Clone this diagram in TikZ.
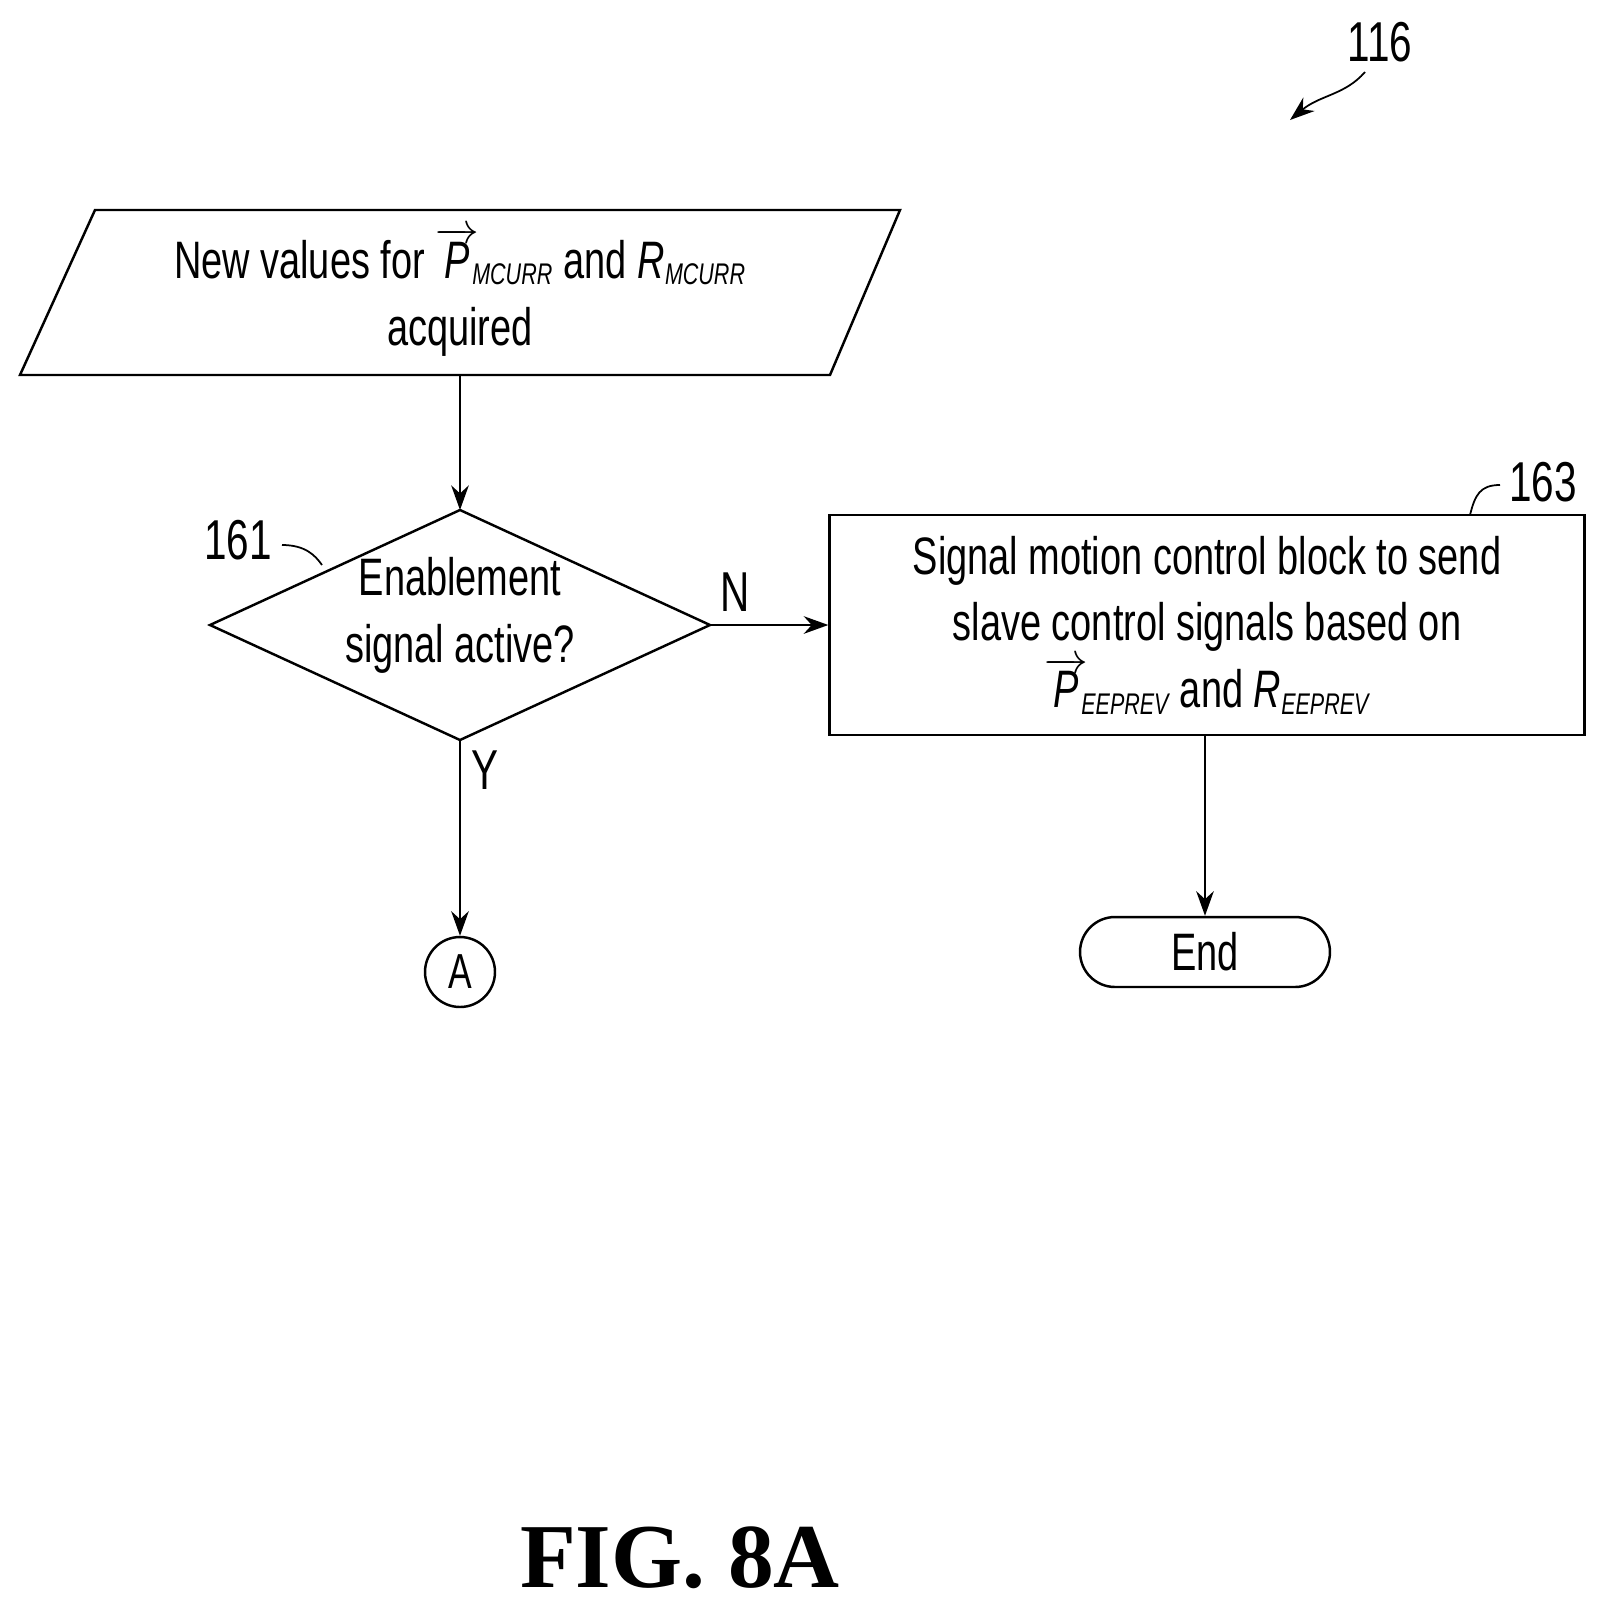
\documentclass[tikz,border=0pt]{standalone}
\usepackage{fontspec}
\setmainfont[FakeStretch=0.72]{Liberation Sans}
\newfontfamily\figfont{Liberation Serif}
\usetikzlibrary{shapes.geometric,arrows.meta}
\newcommand{\sbs}[1]{\mbox{\fontsize{17}{17}\selectfont\itshape #1}}
\newcommand{\vP}{\ensuremath{\overrightarrow{\mbox{\itshape P}}\kern-4pt}}
\begin{document}
\begin{tikzpicture}[x=0.02cm,y=-0.02cm,
  line width=1.4pt,
  txt/.style={font=\fontsize{30}{38}\selectfont,align=center},
  arr/.style={-{Stealth[length=14pt,width=10pt]}},
  lbl/.style={font=\fontsize{32}{36}\selectfont}]
\useasboundingbox (0,0) rectangle (1608,1617);
% parallelogram
\draw (95,210) -- (900,210) -- (830,375) -- (20,375) -- cycle;
\node[txt] (in) at (460,292) {New values for \vP$_{\sbs{MCURR}}$ and {\itshape R}$_{\sbs{MCURR}}$\\acquired};
\coordinate (inb) at (460,375);
% diamond
\coordinate (dt) at (460,510);
\coordinate (dr) at (710,625);
\coordinate (db) at (460,740);
\coordinate (dl) at (210,625);
\draw (dt) -- (dr) -- (db) -- (dl) -- cycle;
\node[txt] (dtxt) at (460,615) {Enablement\\signal active?};
\draw[arr] (inb) -- (dt);
% box
\node[draw,minimum width=15.1cm,minimum height=4.4cm,txt,inner sep=0pt] (b) at (1207,625)
 {Signal motion control block to send\\slave control signals based on\\\vP$_{\sbs{EEPREV}}$ and {\itshape R}$_{\sbs{EEPREV}}$};
\draw[arr] (dr) -- (b.west);
\node[lbl] (n) at (735,592) {N};
% connector A
\node[draw,circle,minimum size=1.4cm,font=\fontsize{28}{32}\selectfont] (a) at (460,972) {A};
\draw[arr] (db) -- (a.north);
\node[lbl] (y) at (485,770) {Y};
% End
\node[draw,rounded corners=0.7cm,minimum width=5cm,minimum height=1.4cm,txt] (e) at (1205,952) {End};
\draw[arr] (b.south -| e.north) -- (e.north);
% labels
\node[lbl] (l161) at (238,540) {161};
\draw[line width=1pt] (282,545) .. controls (305,545) and (315,555) .. (322,565);
\node[lbl] (l163) at (1543,482) {163};
\draw[line width=1pt] (1500,485) .. controls (1480,485) and (1475,495) .. (1470,515);
\node[lbl] (l116) at (1380,42) {116};
\coordinate (t116) at (1290,120);
\draw[line width=1pt,-{Stealth[length=14pt,width=10pt]}] (1365,72) .. controls (1345,95) and (1320,95) .. (t116);
% figure caption
\node[font=\figfont\bfseries\fontsize{52}{60}\selectfont] (fig) at (680,1558) {FIG. 8A};
\end{tikzpicture}
\end{document}
